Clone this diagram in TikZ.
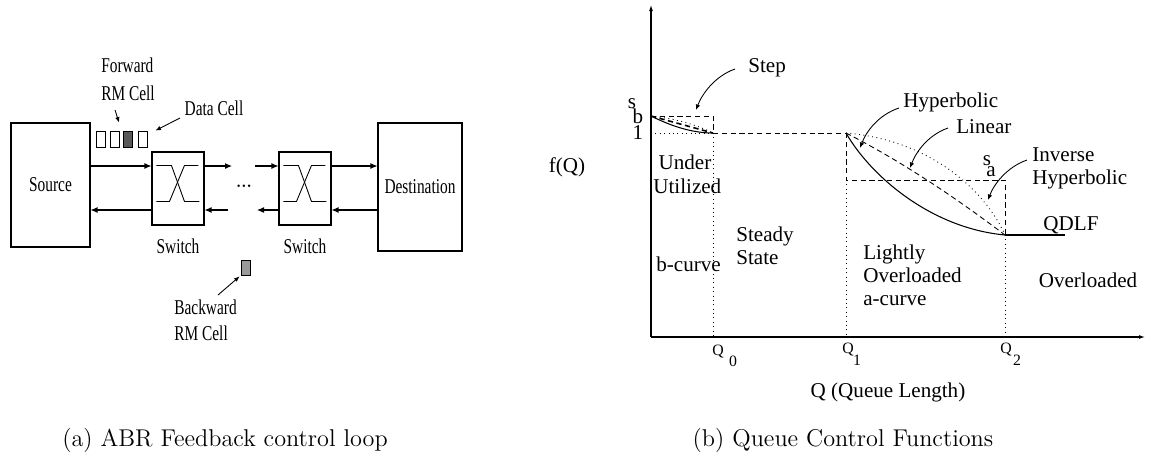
\documentclass[tikz,border=0pt]{standalone}
\usepackage{fontspec}
\newfontfamily\tms{Liberation Serif}
\newfontfamily\tmsn[FakeStretch=0.73]{Liberation Serif}
\usetikzlibrary{arrows.meta,calc}

\tikzset{
  box/.style={draw, line width=0.6pt, inner sep=0pt},
  arr/.style={-{Latex[length=1.4mm,width=1.2mm]}, line width=0.6pt},
  ann/.style={-{Latex[length=1.1mm,width=0.9mm]}, line width=0.5pt},
  axis/.style={-{Latex[length=1.2mm,width=0.8mm]}, line width=0.6pt},
  nw/.style={font=\tmsn\fontsize{12}{14}\selectfont, inner sep=0pt},
  tm/.style={font=\tms\fontsize{12}{13.1}\selectfont, inner sep=0pt},
  small/.style={font=\tms\fontsize{9}{10}\selectfont, inner sep=0pt},
  captext/.style={font=\rmfamily\fontsize{13.8}{16}\selectfont, inner sep=0pt},
  cell/.style={draw, line width=0.5pt, minimum width=0.18cm, minimum height=0.32cm, inner sep=0pt},
  guide/.style={line width=0.5pt, dotted},
  dguide/.style={line width=0.5pt, dashed, dash pattern=on 3pt off 2pt},
}

\begin{document}
\begin{tikzpicture}[x=0.02cm, y=-0.02cm]
\useasboundingbox (0,0) rectangle (1156,457);

% ---------------- ABR feedback loop ----------------
\node[box, nw, minimum width=1.58cm, minimum height=2.48cm] (src) at (50.5,185) {Source};
\node[box, nw, minimum width=1.68cm, minimum height=2.56cm] (dst) at (420,187) {Destination};
\node[box, minimum width=1.04cm, minimum height=1.46cm] (sw1) at (178,188.5) {};
\node[box, minimum width=1.04cm, minimum height=1.46cm] (sw2) at (305,188.5) {};
\node[nw] (sw1lbl) at (178,246) {Switch};
\node[nw] (sw2lbl) at (305,246) {Switch};

% crossbar inside each switch
\foreach \s in {sw1,sw2} {
  \draw[line width=0.5pt] ($(\s.north west)+(5,14)$) -- ++(15,0) -- ++(13,36) -- ++(15,0);
  \draw[line width=0.5pt] ($(\s.north west)+(5,50)$) -- ++(13,0) -- ++(15,-36) -- ++(14,0);
}

% forward and backward links
\coordinate (fy) at (0,166);
\coordinate (by) at (0,210);
\coordinate (f1) at (232,166);
\coordinate (f2) at (255,166);
\coordinate (b1) at (228,210);
\coordinate (b2) at (257,210);
\draw[arr] (src.east |- fy) -- (sw1.west |- fy);
\draw[arr] (sw1.west |- by) -- (src.east |- by);
\draw[arr] (sw1.east |- fy) -- (f1);
\draw[arr] (b1) -- (sw1.east |- by);
\draw[arr] (f2) -- (sw2.west |- fy);
\draw[arr] (sw2.west |- by) -- (b2);
\draw[arr] (sw2.east |- fy) -- (dst.west |- fy);
\draw[arr] (dst.west |- by) -- (sw2.east |- by);
\node[font=\bfseries\fontsize{9}{10}\selectfont, inner sep=0pt] (dots) at (244,186) {...};

% cells
\node[cell] (c1) at (100.5,139) {};
\node[cell] (c2) at (114.5,139) {};
\node[cell, fill=black!65] (c3) at (128,139) {};
\node[cell] (c4) at (142.5,139) {};
\node[cell, fill=black!40, minimum height=0.30cm] (c5) at (245.5,267.5) {};

\node[nw, align=left, font=\tmsn\fontsize{12}{15.9}\selectfont] (fwdlbl) at (128,79) {Forward\\RM Cell};
\node[nw] (datalbl) at (214,108) {Data Cell};
\node[nw, align=left, anchor=west, font=\tmsn\fontsize{12}{14.8}\selectfont] (bwdlbl) at (174,320) {Backward\\RM Cell};

\coordinate (fa) at (115,110);
\coordinate (da) at (180,118);
\coordinate (ba) at (218,295);
\draw[ann] (fa) -- ($(c3.north west)+(-4,-8)$);
\draw[ann] (da) -- ($(c4.north east)+(8,0)$);
\draw[ann] (ba) -- ($(c5.south west)+(-1,1)$);

\node[captext] (capa) at (225,440) {(a) ABR Feedback control loop};

% ---------------- queue control functions ----------------
\coordinate (O) at (651,337);
\coordinate (ytop) at (651,5);
\coordinate (xend) at (1145,337);
\draw[axis] (O) -- (ytop);
\draw[axis] (O) -- (xend);

% key points
\coordinate (sb) at (651,116);
\coordinate (one) at (651,133);
\coordinate (q0t) at (713,116);
\coordinate (q0) at (713,133);
\coordinate (q1) at (846,133);
\coordinate (q1a) at (846,180);
\coordinate (q2a) at (1005,180);
\coordinate (q2) at (1005,235);
\coordinate (qd) at (1065,235);

% guide lines
\draw[guide] (one) -- (q0);
\draw[dguide] (sb) -- (q0t) -- (q0);
\draw[guide] (q0) -- (713,337);
\draw[dguide] (q0) -- (q1);
\draw[dguide] (q1) -- (q1a) -- (q2a) -- (q2);
\draw[guide] (q1a) -- (846,337);
\draw[guide] (q2) -- (1005,337);

% b-curves
\draw[line width=0.6pt] (sb) .. controls (675,128) and (695,133) .. (q0);
\draw[line width=0.9pt, dashed, dash pattern=on 3pt off 2pt] (sb) -- (q0);
\draw[line width=0.5pt, dotted] (sb) .. controls (672,118) and (695,124) .. (q0);

% a-curves
\draw[line width=0.6pt] (q1) .. controls (870,175) and (930,228) .. (q2);
\draw[line width=0.5pt, dashed, dash pattern=on 3pt off 2pt] (q1) .. controls (899,160) and (952,195) .. (q2);
\draw[line width=0.5pt, dotted] (q1) .. controls (930,140) and (985,190) .. (q2);
\draw[line width=0.6pt] (q2) -- (qd);

% axis labels
\node[tm] (fq) at (567,167) {f(Q)};
\node[tm] (sblbl) at (632,104) {s};
\node[tm] (sblb2) at (638,116) {b};
\node[tm] (onelbl) at (638,133) {1};
\node[tm] (salbl) at (987,161) {s};
\node[tm] (salb2) at (991,172) {a};
\node[small] (q0l) at (718,352) {Q};
\node[small] (q0s) at (733,361) {0};
\node[small] (q1l) at (848,350) {Q};
\node[small] (q1s) at (857,360) {1};
\node[small] (q2l) at (1006,350) {Q};
\node[small] (q2s) at (1017,360) {2};
\node[tm] (xlbl) at (888,392) {Q (Queue Length)};

% region labels
\node[tm, align=left, anchor=west, font=\tms\fontsize{12}{13.65}\selectfont] (under) at (653,174) {\hspace*{3pt}Under\\Utilized};
\node[tm, anchor=west] (bcurve) at (656,264) {b-curve};
\node[tm, align=left, anchor=west] (steady) at (736,245.5) {Steady\\State};
\node[tm, align=left, anchor=west] (light) at (863,275) {Lightly\\Overloaded\\a-curve};
\node[tm] (over) at (1088,280) {Overloaded};
\node[tm] (qdlf) at (1071,225) {QDLF};

% curve names and pointers
\node[tm, anchor=west] (steplbl) at (748,68) {Step};
\node[tm, anchor=west] (hyplbl) at (903,102) {Hyperbolic};
\node[tm, anchor=west] (linlbl) at (956,127) {Linear};
\node[tm, align=left, anchor=west] (invlbl) at (1032,168.5) {Inverse\\Hyperbolic};

\coordinate (sa1) at (735,69);
\coordinate (sa2) at (696,110);
\coordinate (ha1) at (899,108);
\coordinate (ha2) at (860,148);
\coordinate (la1) at (948,128);
\coordinate (la2) at (910,168);
\coordinate (ia1) at (1027,160);
\coordinate (ia2) at (988,200);
\draw[ann] (sa1) .. controls (715,76) and (702,94) .. (sa2);
\draw[ann] (ha1) .. controls (878,115) and (866,132) .. (ha2);
\draw[ann] (la1) .. controls (928,135) and (916,152) .. (la2);
\draw[ann] (ia1) .. controls (1007,167) and (994,184) .. (ia2);

\node[captext] (capb) at (843,440) {(b) Queue Control Functions};
\end{tikzpicture}
\end{document}
